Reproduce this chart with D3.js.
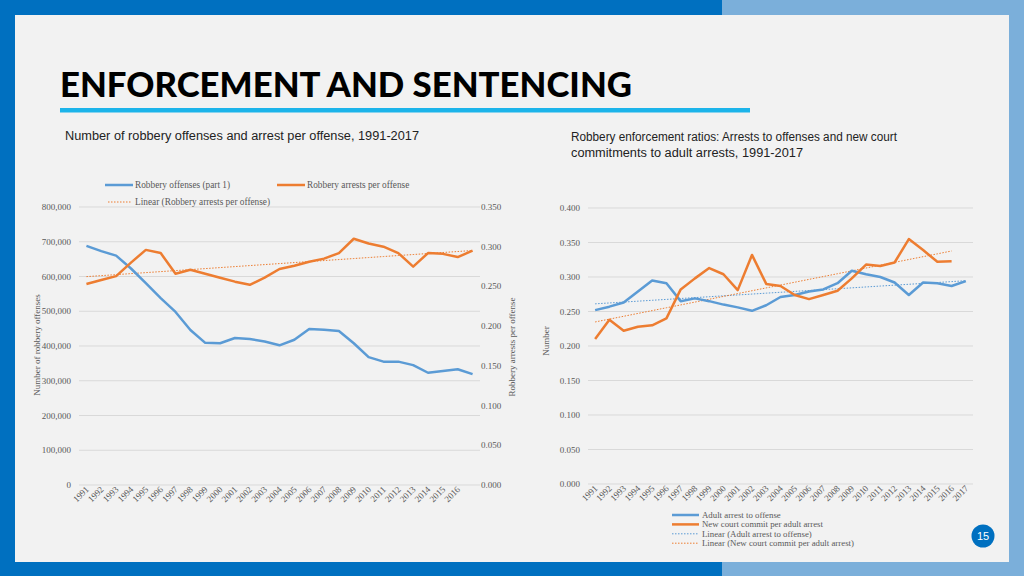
<!DOCTYPE html>
<html><head><meta charset="utf-8">
<script src="https://cdn.jsdelivr.net/npm/d3@7"></script>
<style>html,body{margin:0;padding:0;background:#fff;}svg{display:block;}</style>
</head><body>
<svg id="c" width="1024" height="576"></svg>
<script>
const years = d3.range(1991, 2018).map(String);
const leftXLabels = d3.range(1991, 2017).map(String);
const robberyOffenses = [688000,673000,660000,623000,581000,538000,498000,446000,409000,408000,423000,420000,413000,402000,418000,449000,447000,443000,408000,368000,355000,355000,345000,323000,328000,333000,319000];
const arrestsPerOffense = [0.253,0.258,0.263,0.280,0.296,0.292,0.266,0.271,0.266,0.261,0.256,0.252,0.261,0.272,0.276,0.281,0.285,0.292,0.310,0.304,0.300,0.292,0.275,0.292,0.291,0.287,0.295];
const adultArrestToOffense = [0.252,0.257,0.263,0.279,0.295,0.291,0.265,0.269,0.265,0.260,0.256,0.251,0.259,0.271,0.274,0.279,0.282,0.291,0.309,0.304,0.300,0.292,0.274,0.292,0.291,0.287,0.294];
const courtCommitPerArrest = [0.210,0.238,0.222,0.228,0.230,0.240,0.282,0.298,0.313,0.304,0.281,0.332,0.290,0.287,0.274,0.268,0.274,0.280,0.298,0.318,0.316,0.321,0.355,0.339,0.322,0.323];
const leftTicks = [0,100000,200000,300000,400000,500000,600000,700000,800000];
const rightTicksL = [0,0.05,0.1,0.15,0.2,0.25,0.3,0.35];
const rightTicks = [0,0.05,0.1,0.15,0.2,0.25,0.3,0.35,0.4];

const BLUE = "#5b9bd5", ORANGE = "#ed7d31", GRID = "#d9d9d9", TXT = "#595959";
const SERIF = "'Liberation Serif','Times New Roman',serif";
const SANS = "'Liberation Sans',Arial,sans-serif";

const svg = d3.select("#c");
// page background
svg.append("rect").attr("x",0).attr("y",0).attr("width",1024).attr("height",576).attr("fill","#0070c0");
svg.append("rect").attr("x",722).attr("y",0).attr("width",302).attr("height",576).attr("fill","#7bafda");
svg.append("rect").attr("x",15).attr("y",15).attr("width",994).attr("height",547).attr("fill","#f2f2f2");

// title
svg.append("text").attr("x",60).attr("y",97).text("ENFORCEMENT AND SENTENCING")
  .attr("font-family","Lato,'Liberation Sans',sans-serif").attr("font-weight",900).attr("font-size",34)
  .attr("textLength",572).attr("lengthAdjust","spacingAndGlyphs").attr("fill","#000");
svg.append("rect").attr("x",60).attr("y",108).attr("width",690).attr("height",4.5).attr("fill","#1cb4ea");

// chart titles
svg.append("text").attr("x",65).attr("y",140).text("Number of robbery offenses and arrest per offense, 1991-2017")
  .attr("font-family",SANS).attr("font-size",12.5).attr("fill","#222")
  .attr("textLength",354).attr("lengthAdjust","spacingAndGlyphs");
svg.append("text").attr("x",571).attr("y",141).text("Robbery enforcement ratios: Arrests to offenses and new court")
  .attr("font-family",SANS).attr("font-size",12.5).attr("fill","#222")
  .attr("textLength",326).attr("lengthAdjust","spacingAndGlyphs");
svg.append("text").attr("x",571).attr("y",157).text("commitments to adult arrests, 1991-2017")
  .attr("font-family",SANS).attr("font-size",12.5).attr("fill","#222")
  .attr("textLength",232).attr("lengthAdjust","spacingAndGlyphs");

function linfit(vals){
  const n = vals.length, xs = d3.range(n);
  const mx = d3.mean(xs), my = d3.mean(vals);
  let sxy=0,sxx=0; xs.forEach((x,i)=>{sxy+=(x-mx)*(vals[i]-my); sxx+=(x-mx)*(x-mx);});
  const b = sxy/sxx, a = my-b*mx;
  return xs.map(x=>a+b*x);
}

// ---------- LEFT CHART ----------
const gL = svg.append("g");
const xL = d3.scaleBand().domain(years).range([79,480]);
const cxL = d => xL(d)+xL.bandwidth()/2;
const yL = d3.scaleLinear().domain([0,800000]).range([485,207]);
const yL2 = d3.scaleLinear().domain([0,0.35]).range([485,207]);

gL.selectAll(".gl").data(leftTicks).enter().append("line")
  .attr("x1",79).attr("x2",480).attr("y1",d=>yL(d)).attr("y2",d=>yL(d))
  .attr("stroke",GRID).attr("stroke-width",1);
gL.selectAll(".tl").data(leftTicks).enter().append("text")
  .attr("x",71).attr("y",d=>yL(d)+3).attr("text-anchor","end").text(d=>d3.format(",")(d))
  .attr("font-family",SERIF).attr("font-size",9).attr("fill",TXT);
gL.selectAll(".tr").data(rightTicksL).enter().append("text")
  .attr("x",481).attr("y",d=>yL2(d)+3).attr("text-anchor","start").text(d=>d3.format(".3f")(d))
  .attr("font-family",SERIF).attr("font-size",9).attr("fill",TXT);
gL.selectAll(".xl").data(leftXLabels).enter().append("text")
  .attr("transform",d=>`translate(${cxL(d)+3},${490}) rotate(-45)`).attr("text-anchor","end")
  .text(d=>d).attr("font-family",SERIF).attr("font-size",9).attr("fill",TXT);
gL.append("text").attr("transform","translate(40,345) rotate(-90)").attr("text-anchor","middle")
  .text("Number of robbery offenses").attr("font-family",SERIF).attr("font-size",9).attr("fill",TXT);
gL.append("text").attr("transform","translate(515,347) rotate(-90)").attr("text-anchor","middle")
  .text("Robbery arrests per offense").attr("font-family",SERIF).attr("font-size",9).attr("fill",TXT);

const trendL = linfit(arrestsPerOffense);
gL.append("path").attr("d",d3.line().x((d,i)=>cxL(years[i])).y(d=>yL2(d))(trendL))
  .attr("fill","none").attr("stroke",ORANGE).attr("stroke-width",1).attr("stroke-dasharray","1.5,1.5");
gL.append("path").attr("d",d3.line().x((d,i)=>cxL(years[i])).y(d=>yL(d))(robberyOffenses))
  .attr("fill","none").attr("stroke",BLUE).attr("stroke-width",2.5).attr("stroke-linejoin","round");
gL.append("path").attr("d",d3.line().x((d,i)=>cxL(years[i])).y(d=>yL2(d))(arrestsPerOffense))
  .attr("fill","none").attr("stroke",ORANGE).attr("stroke-width",2.5).attr("stroke-linejoin","round");

// left legend
const legL = [
  {x:105,y:185,label:"Robbery offenses (part 1)",color:BLUE,dash:null},
  {x:277,y:185,label:"Robbery arrests per offense",color:ORANGE,dash:null},
  {x:108,y:202,label:"Linear (Robbery arrests per offense)",color:ORANGE,dash:"1.5,1.5"}
];
legL.forEach(l=>{
  gL.append("line").attr("x1",l.x).attr("x2",l.dash?132:l.x+28).attr("y1",l.y).attr("y2",l.y)
    .attr("stroke",l.color).attr("stroke-width",l.dash?1:2.5).attr("stroke-dasharray",l.dash);
  gL.append("text").attr("x",l.dash?135:l.x+30).attr("y",l.y+3).text(l.label)
    .attr("font-family",SERIF).attr("font-size",9.3).attr("fill",TXT);
});

// ---------- RIGHT CHART ----------
const gR = svg.append("g");
const xR = d3.scaleBand().domain(years).range([588,973]);
const cxR = d => xR(d)+xR.bandwidth()/2;
const yR = d3.scaleLinear().domain([0,0.4]).range([484,208]);

gR.selectAll(".gr").data(rightTicks).enter().append("line")
  .attr("x1",588).attr("x2",973).attr("y1",d=>yR(d)).attr("y2",d=>yR(d))
  .attr("stroke",GRID).attr("stroke-width",1);
gR.selectAll(".tr").data(rightTicks).enter().append("text")
  .attr("x",580).attr("y",d=>yR(d)+3).attr("text-anchor","end").text(d=>d3.format(".3f")(d))
  .attr("font-family",SERIF).attr("font-size",9).attr("fill",TXT);
gR.selectAll(".xr").data(years).enter().append("text")
  .attr("transform",d=>`translate(${cxR(d)+3},${489}) rotate(-45)`).attr("text-anchor","end")
  .text(d=>d).attr("font-family",SERIF).attr("font-size",9).attr("fill",TXT);
gR.append("text").attr("transform","translate(549,341) rotate(-90)").attr("text-anchor","middle")
  .text("Number").attr("font-family",SERIF).attr("font-size",9).attr("fill",TXT);

const trendB = linfit(adultArrestToOffense);
const trendO = linfit(courtCommitPerArrest);
gR.append("path").attr("d",d3.line().x((d,i)=>cxR(years[i])).y(d=>yR(d))(trendB))
  .attr("fill","none").attr("stroke",BLUE).attr("stroke-width",1).attr("stroke-dasharray","1.5,1.5");
gR.append("path").attr("d",d3.line().x((d,i)=>cxR(years[i])).y(d=>yR(d))(trendO))
  .attr("fill","none").attr("stroke",ORANGE).attr("stroke-width",1).attr("stroke-dasharray","1.5,1.5");
gR.append("path").attr("d",d3.line().x((d,i)=>cxR(years[i])).y(d=>yR(d))(adultArrestToOffense))
  .attr("fill","none").attr("stroke",BLUE).attr("stroke-width",2.5).attr("stroke-linejoin","round");
gR.append("path").attr("d",d3.line().x((d,i)=>cxR(years[i])).y(d=>yR(d))(courtCommitPerArrest))
  .attr("fill","none").attr("stroke",ORANGE).attr("stroke-width",2.5).attr("stroke-linejoin","round");

const legR = [
  {label:"Adult arrest to offense",color:BLUE,dash:null},
  {label:"New court commit per adult arrest",color:ORANGE,dash:null},
  {label:"Linear (Adult arrest to offense)",color:BLUE,dash:"1.5,1.5"},
  {label:"Linear (New court commit per adult arrest)",color:ORANGE,dash:"1.5,1.5"}
];
legR.forEach((l,i)=>{
  const y = 515 + i*9.4;
  gR.append("line").attr("x1",672).attr("x2",699).attr("y1",y).attr("y2",y)
    .attr("stroke",l.color).attr("stroke-width",l.dash?1:2.5).attr("stroke-dasharray",l.dash);
  gR.append("text").attr("x",702).attr("y",y+3).text(l.label)
    .attr("font-family",SERIF).attr("font-size",8.8).attr("fill",TXT);
});

// page number
svg.append("circle").attr("cx",983).attr("cy",536).attr("r",11.5).attr("fill","#0070c0");
svg.append("text").attr("x",983).attr("y",540).attr("text-anchor","middle").text("15")
  .attr("font-family",SANS).attr("font-size",11).attr("fill","#fff");
</script>
</body></html>
